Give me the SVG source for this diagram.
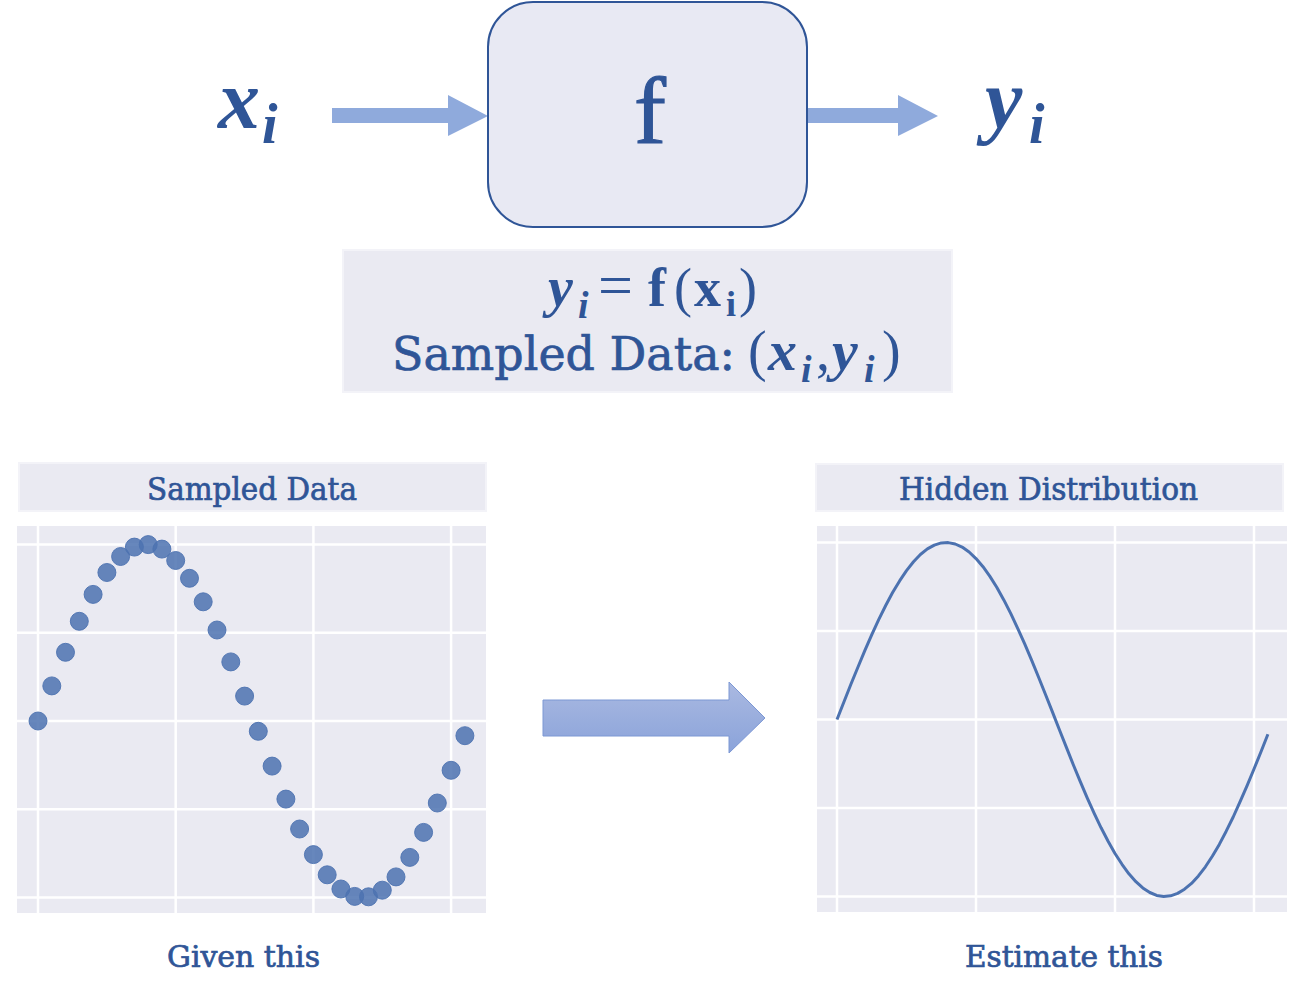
<svg xmlns="http://www.w3.org/2000/svg" width="1294" height="999" viewBox="0 0 1294 999">
<style>
.mbi{font-family:"Liberation Serif",serif;font-weight:bold;font-style:italic;fill:#2F5597}
.mr{font-family:"Liberation Serif",serif;fill:#2F5597}
.mb{font-family:"Liberation Serif",serif;font-weight:bold;fill:#2F5597}
.cs{font-family:"DejaVu Serif",serif;fill:#2F5597;stroke:#2F5597;stroke-width:0.7}
.panel{fill:#EAEAF2}
.title{fill:#EAEAF2;stroke:#F3F3F8;stroke-width:2}
.grid{stroke:#FFFFFF;stroke-width:2.5;fill:none}
.dot{fill:#4C72B0;fill-opacity:0.85;stroke:#4C72B0;stroke-opacity:0.9;stroke-width:1}
.flow{fill:#8FAADC}
</style>
<defs>
<linearGradient id="bigGrad" x1="0" y1="0" x2="0" y2="1">
<stop offset="0" stop-color="#AAB9E1"/>
<stop offset="1" stop-color="#8AA3DA"/>
</linearGradient>
</defs>
<rect width="1294" height="999" fill="#FFFFFF"/>

<g id="connectors">
<polygon class="flow" points="332,108 448,108 448,95 488,116 448,136 448,123 332,123"/>
<polygon class="flow" points="807,108 898,108 898,95 938,116 898,136 898,123 807,123"/>
<polygon fill="url(#bigGrad)" stroke="#7D98D4" stroke-width="1" points="543,700 729,700 729,682 765,718 729,753 729,736 543,736"/>
</g>

<g id="node-input">
<text class="mbi" x="218" y="128" font-size="84">x</text>
<text class="mbi" x="262" y="143" font-size="56">i</text>
</g>

<g id="node-f">
<rect x="488" y="2" width="319" height="225" rx="45" ry="45" fill="#E8E9F3" stroke="#2F5597" stroke-width="2"/>
<text class="mr" x="650" y="143" font-size="96" text-anchor="middle" stroke="#2F5597" stroke-width="1.2">f</text>
</g>

<g id="node-output">
<text class="mbi" x="985" y="128" font-size="84">y</text>
<text class="mbi" x="1029" y="143" font-size="56">i</text>
</g>

<g id="node-formula">
<rect x="343" y="250" width="609" height="142" fill="#EAEAF2" stroke="#F3F3F8" stroke-width="2"/>
<text class="mbi" x="548" y="306" font-size="56">y</text>
<text class="mbi" x="578" y="318" font-size="38">i</text>
<text class="mr" x="598" y="306" font-size="62">=</text>
<text class="mb" x="648" y="306" font-size="54">f</text>
<text class="mr" x="674" y="306" font-size="54">(</text>
<text class="mb" x="694" y="306" font-size="54">x</text>
<text class="mb" x="726" y="316" font-size="36">i</text>
<text class="mr" x="739" y="306" font-size="54">)</text>
<text class="cs" x="392" y="370" font-size="47" textLength="343" lengthAdjust="spacingAndGlyphs">Sampled Data:</text>
<text class="mr" x="748" y="370" font-size="56">(</text>
<text class="mbi" x="768" y="370" font-size="58">x</text>
<text class="mbi" x="801" y="382" font-size="38">i</text>
<text class="mr" x="816" y="370" font-size="56">,</text>
<text class="mbi" x="832" y="370" font-size="58">y</text>
<text class="mbi" x="864" y="382" font-size="38">i</text>
<text class="mr" x="882" y="370" font-size="56">)</text>
</g>

<g id="node-sampled">
<rect class="title" x="19" y="463" width="467" height="48"/>
<text class="cs" x="147" y="500" font-size="31" textLength="210" lengthAdjust="spacingAndGlyphs">Sampled Data</text>
<rect class="panel" x="17" y="526" width="469" height="387"/>
<path class="grid" d="M38,526V913M175.7,526V913M313.4,526V913M451.1,526V913M17,544.5H486M17,632.75H486M17,721H486M17,809.25H486M17,897.5H486"/>
<g>
<circle class="dot" cx="38" cy="721" r="9"/>
<circle class="dot" cx="51.8" cy="685.9" r="9"/>
<circle class="dot" cx="65.5" cy="652.3" r="9"/>
<circle class="dot" cx="79.3" cy="621.3" r="9"/>
<circle class="dot" cx="93.1" cy="594.4" r="9"/>
<circle class="dot" cx="106.9" cy="572.5" r="9"/>
<circle class="dot" cx="120.6" cy="556.5" r="9"/>
<circle class="dot" cx="134.4" cy="547.1" r="9"/>
<circle class="dot" cx="148.2" cy="544.6" r="9"/>
<circle class="dot" cx="161.9" cy="549.1" r="9"/>
<circle class="dot" cx="175.7" cy="560.5" r="9"/>
<circle class="dot" cx="189.5" cy="578.3" r="9"/>
<circle class="dot" cx="203.2" cy="601.8" r="9"/>
<circle class="dot" cx="217" cy="630" r="9"/>
<circle class="dot" cx="230.8" cy="661.9" r="9"/>
<circle class="dot" cx="244.6" cy="696.1" r="9"/>
<circle class="dot" cx="258.3" cy="731.3" r="9"/>
<circle class="dot" cx="272.1" cy="766.1" r="9"/>
<circle class="dot" cx="285.9" cy="799.1" r="9"/>
<circle class="dot" cx="299.6" cy="829" r="9"/>
<circle class="dot" cx="313.4" cy="854.6" r="9"/>
<circle class="dot" cx="327.2" cy="874.8" r="9"/>
<circle class="dot" cx="340.9" cy="889" r="9"/>
<circle class="dot" cx="354.7" cy="896.4" r="9"/>
<circle class="dot" cx="368.5" cy="896.8" r="9"/>
<circle class="dot" cx="382.3" cy="890.2" r="9"/>
<circle class="dot" cx="396" cy="876.9" r="9"/>
<circle class="dot" cx="409.8" cy="857.4" r="9"/>
<circle class="dot" cx="423.6" cy="832.4" r="9"/>
<circle class="dot" cx="437.3" cy="803" r="9"/>
<circle class="dot" cx="451.1" cy="770.3" r="9"/>
<circle class="dot" cx="464.9" cy="735.7" r="9"/>
</g>
<text class="cs" x="167" y="967" font-size="30" textLength="153" lengthAdjust="spacingAndGlyphs">Given this</text>
</g>

<g id="node-hidden">
<rect class="title" x="816" y="464" width="467" height="47"/>
<text class="cs" x="899" y="500" font-size="31" textLength="299" lengthAdjust="spacingAndGlyphs">Hidden Distribution</text>
<rect class="panel" x="817" y="526" width="470" height="386"/>
<path class="grid" d="M837,526V912M976,526V912M1115,526V912M1254,526V912M817,542.5H1287M817,631H1287M817,719.5H1287M817,808H1287M817,896.5H1287"/>
<polyline fill="none" stroke="#4C72B0" stroke-width="3" stroke-linejoin="round" stroke-linecap="butt" points="837,719.5 844,701.8 850.9,684.3 857.9,667.2 864.8,650.6 871.8,634.6 878.7,619.6 885.7,605.5 892.6,592.5 899.6,580.9 906.5,570.6 913.5,561.8 920.4,554.5 927.4,548.9 934.3,545.1 941.3,542.9 948.2,542.6 955.2,544 962.1,547.1 969.1,552 976,558.6 983,566.7 989.9,576.4 996.9,587.5 1003.8,599.9 1010.8,613.6 1017.7,628.3 1024.7,643.9 1031.6,660.2 1038.6,677.2 1045.5,694.5 1052.5,712.1 1059.4,729.8 1066.4,747.4 1073.3,764.7 1080.3,781.6 1087.2,797.8 1094.2,813.3 1101.1,827.8 1108.1,841.2 1115,853.5 1122,864.3 1128.9,873.8 1135.9,881.7 1142.8,887.9 1149.8,892.5 1156.7,895.4 1163.7,896.5 1170.6,895.8 1177.6,893.4 1184.5,889.2 1191.5,883.4 1198.4,875.9 1205.4,866.8 1212.3,856.3 1219.3,844.4 1226.2,831.2 1233.2,817 1240.1,801.7 1247.1,785.7 1254,769 1261,751.7 1267.9,734.2"/>
<text class="cs" x="965" y="967" font-size="30" textLength="198" lengthAdjust="spacingAndGlyphs">Estimate this</text>
</g>
</svg>
